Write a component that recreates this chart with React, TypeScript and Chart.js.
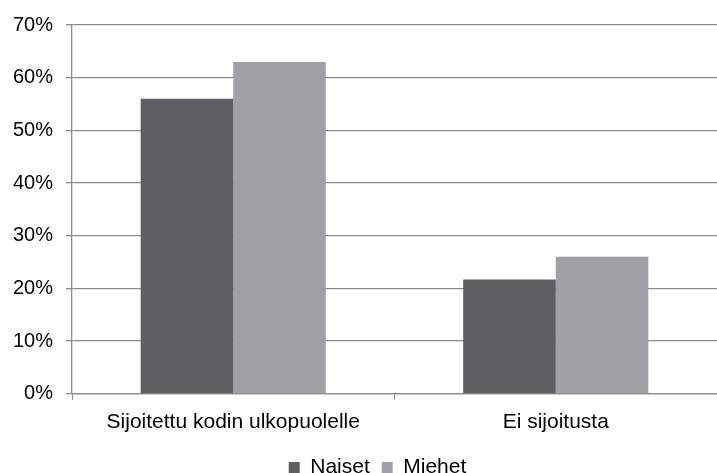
import React, { useEffect, useRef } from "react";
import { Chart, registerables } from "chart.js";

Chart.register(...registerables);

const categories = ["Sijoitettu kodin ulkopuolelle", "Ei sijoitusta"];
const naiset = [56, 21.7];
const miehet = [63, 26];
const seriesNames = ["Naiset", "Miehet"];

export default function App() {
  const ref = useRef<HTMLCanvasElement>(null);
  useEffect(() => {
    document.body.style.margin = "0";
    const family = "'Liberation Sans', Arial, sans-serif";
    const shiftLegend = {
      id: "shiftLegend",
      afterLayout: (c: any) => {
        if (c.legend) { c.legend.left += 19; c.legend.right += 19; }
      },
    };
    const chart = new Chart(ref.current!, {
      type: "bar",
      data: {
        labels: categories,
        datasets: [
          { label: seriesNames[0], data: naiset, backgroundColor: "#5e5e60", borderWidth: 0 },
          { label: seriesNames[1], data: miehet, backgroundColor: "#a0a1a5", borderWidth: 0 },
        ],
      },
      plugins: [shiftLegend],
      options: {
        animation: false,
        responsive: false,
        maintainAspectRatio: false,
        layout: { padding: { top: 18, right: 0, left: 0, bottom: -15 } },
        datasets: { bar: { categoryPercentage: 0.574, barPercentage: 1 } },
        plugins: {
          legend: {
            position: "bottom",
            labels: { boxWidth: 11, boxHeight: 11, font: { family, size: 21 }, color: "#000", padding: 12 },
          },
          tooltip: { enabled: false },
        },
        scales: {
          x: {
            afterFit: (s: any) => { s.height -= 0; },
            grid: { drawOnChartArea: false, drawTicks: true, tickLength: 6, color: "#8c8c8c", offset: true },
            border: { color: "#8c8c8c", width: 1.3 },
            ticks: { font: { family, size: 21 }, color: "#000", padding: 10, maxRotation: 0 },
          },
          y: {
            min: 0,
            max: 70,
            afterFit: (s: any) => { s.width = 72; },
            grid: { color: "#8c8c8c", lineWidth: 1.3, tickLength: 6 },
            border: { color: "#8c8c8c", width: 1.3 },
            ticks: { stepSize: 10, font: { family, size: 20 }, color: "#000", padding: 13, callback: (v: any) => v + "%" },
          },
        },
      },
    });
    return () => chart.destroy();
  }, []);
  return (
    <div style={{ width: 717, height: 473 }}>
      <canvas ref={ref} width={717} height={473} style={{ width: 717, height: 473 }} />
    </div>
  );
}
